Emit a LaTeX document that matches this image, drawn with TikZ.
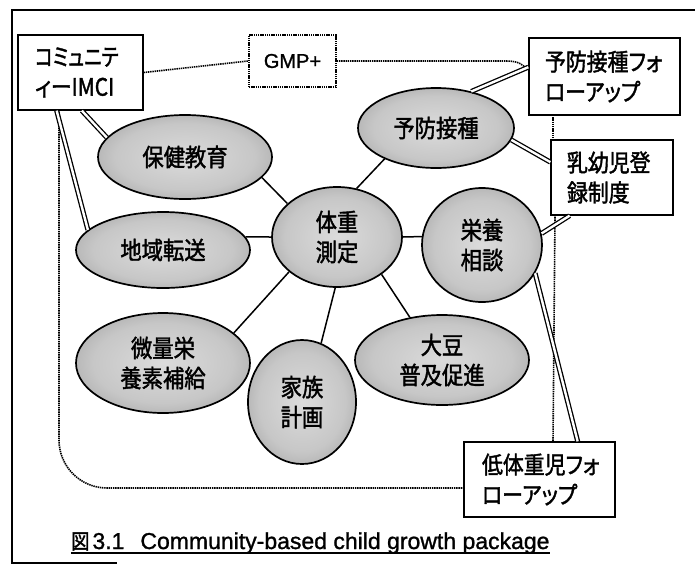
\documentclass[tikz,border=0pt]{standalone}
\usepackage{fontspec}
\setmainfont{Liberation Sans}
\newfontfamily\capfont[FakeBold=1.2]{Liberation Sans}
\newfontfamily\jp[FakeStretch=0.87,FakeBold=1.6]{Noto Sans CJK JP}
\newfontfamily\jpp[RawFeature=+palt,FakeStretch=0.87,FakeBold=1.6]{Noto Sans CJK JP}
\usetikzlibrary{shapes.geometric}
\pgfdeclareradialshading{ellshade}{\pgfpoint{0bp}{0bp}}{color(0bp)=(black!14); color(20bp)=(black!22); color(38bp)=(black!42); color(50bp)=(black!50)}
\tikzset{
  jbox/.style={draw, line width=1.3pt, fill=white, rectangle, inner ysep=0pt, align=left, font=\jpp\fontsize{24}{30}\selectfont},
  oval/.style={ellipse, draw, line width=1.7pt, shading=ellshade, inner sep=0pt, align=center, font=\jp\fontsize{24.5}{30}\selectfont},
  link/.style={line width=1.5pt},
  dlink/.style={line width=1.3pt, double=white, double distance=2.4pt},
  dots/.style={line width=1.6pt, dash pattern=on 1.4pt off 0.8pt},
}
\begin{document}
\begin{tikzpicture}[x=1pt,y=-1pt]
\useasboundingbox (0,0) rectangle (695,566);
% outer frame
\draw[line width=1.3pt] (695,10) -- (12,10) -- (12,563) -- (117,563);

% boxes
\node[jbox, minimum width=125pt, minimum height=75pt, inner xsep=17pt, text width=91pt] (imci) at (80.5,72.5) {\scalebox{0.9}[1]{コミュニテ}\\ィーIMCI};
\node[draw, dots, rectangle, minimum width=87pt, minimum height=52pt, inner sep=0pt, font=\capfont\fontsize{20}{22}\selectfont] (gmp) at (292.5,61) {GMP+};
\node[jbox, minimum width=151pt, minimum height=77pt, inner xsep=16pt, text width=119pt] (yfu) at (604.5,76.5) {予防接種フォ\\ローアップ};
\node[jbox, minimum width=122pt, minimum height=75pt, inner xsep=16pt, text width=90pt] (reg) at (612,177.5) {乳幼児登\\録制度};
\node[jbox, minimum width=151pt, minimum height=75pt, inner xsep=18pt, text width=115pt] (lbw) at (539.5,479.5) {低体重児フォ\\ローアップ};

% ellipses
\node[oval, minimum width=174pt, minimum height=84pt] (hoken) at (185,157) {保健教育};
\node[oval, minimum width=156pt, minimum height=80pt] (yobo) at (436,128) {予防接種};
\node[oval, minimum width=130pt, minimum height=100pt] (taiju) at (337,237) {体重\\測定};
\node[oval, minimum width=174pt, minimum height=76pt] (chiiki) at (163,250) {地域転送};
\node[oval, minimum width=120pt, minimum height=114pt] (eiyo) at (482,245) {栄養\\相談};
\node[oval, minimum width=174pt, minimum height=100pt] (biryo) at (163,363) {微量栄\\養素補給};
\node[oval, minimum width=108pt, minimum height=124pt] (kazoku) at (302,402) {家族\\計画};
\node[oval, minimum width=174pt, minimum height=90pt] (daizu) at (442,360) {大豆\\普及促進};

% dotted outline
\coordinate (dl1) at (59,110);
\coordinate (dl2) at (464,488);
\coordinate (tr1) at (506,61);
\coordinate (tr2) at (529,70);
\coordinate (rs1) at (553,115);
\coordinate (rs2) at (553,140);
\coordinate (rs3) at (555,215);
\coordinate (rs4) at (553,442);
\draw[dots] (imci.east) -- (gmp.west);
\draw[dots] (gmp.east) -- (tr1) .. controls +(14,0) and +(-7,-5) .. (tr2);
\draw[dots, rounded corners=48pt] (dl1) -- (59,488) -- (dl2);
\draw[dots] (rs1) -- (rs2);
\draw[dots] (rs3) -- (rs4);

% single links from the centre
\draw[link] (taiju.146) -- (hoken.345);
\draw[link] (taiju.68) -- (yobo.211);
\draw[link] (taiju.180) -- (chiiki.9);
\draw[link] (taiju.0) -- (eiyo.172);
\draw[link] (taiju.216) -- (biryo.23);
\draw[link] (taiju.268) -- (kazoku.72);
\draw[link] (taiju.320) -- (daizu.127);

% double links
\draw[dlink] (imci.272) -- (hoken.166);
\draw[dlink] (imci.238) -- (chiiki.165);
\draw[dlink] (yobo.46) -- (yfu.173);
\draw[dlink] (yobo.351) -- (reg.166);
\draw[dlink] (eiyo.11) -- (reg.222);
\draw[dlink] (eiyo.332) -- (lbw.45);

% caption
\node[anchor=base west, inner sep=0pt, font=\capfont\fontsize{23}{26}\selectfont] (cap) at (71,549) {{\jp\fontsize{21}{21}\selectfont 図}\hspace{3pt}3.1\hspace{16pt}Community-based child growth package};
\draw[line width=1.1pt] ([yshift=-4pt]cap.base west) -- ([yshift=-4pt]cap.base east);
\end{tikzpicture}
\end{document}
